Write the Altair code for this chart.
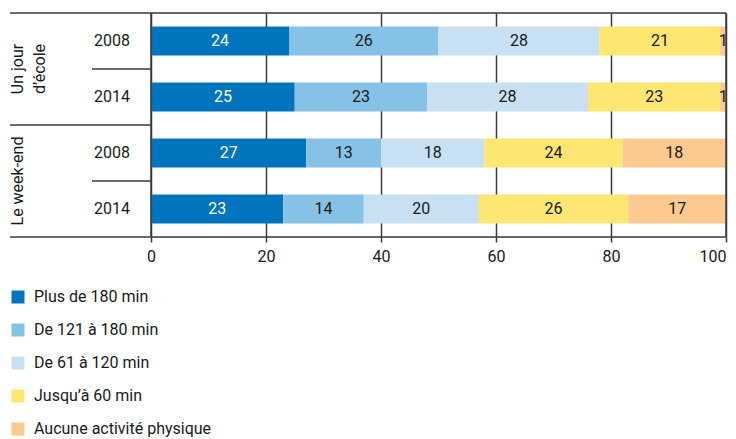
import altair as alt
import pandas as pd

# ---- data ----
rows = ["ecole_2008", "ecole_2014", "weekend_2008", "weekend_2014"]
years = ["2008", "2014", "2008", "2014"]
group_rows = ["ecole_2008", "weekend_2008"]
group_labels = [["Un jour", "d’école"], ["Le week-end"]]
categories = ["Plus de 180 min", "De 121 à 180 min", "De 61 à 120 min",
              "Jusqu’à 60 min", "Aucune activité physique"]
colors = ["#0075BE", "#86C2E5", "#C8E0F4", "#FDE671", "#FCC98F"]

ecole_2008 = [24, 26, 28, 21, 1]
ecole_2014 = [25, 23, 28, 23, 1]
weekend_2008 = [27, 13, 18, 24, 18]
weekend_2014 = [23, 14, 20, 26, 17]
series = [ecole_2008, ecole_2014, weekend_2008, weekend_2014]

x_ticks = [0, 20, 40, 60, 80, 100]

FONT = "Roboto"
TXT = "#1a1a1a"
LINE = "#3a3a3a"

records = []
for r, vals in zip(rows, series):
    for i, (c, v) in enumerate(zip(categories, vals)):
        records.append({"row": r, "category": c, "order": i, "value": v})
df = pd.DataFrame(records)

year_df = pd.DataFrame({"row": rows, "year": years})
group_df = pd.DataFrame({"row": group_rows, "label": group_labels})
short_sep_df = pd.DataFrame({"row": [rows[0], rows[2]]})
group_sep_df = pd.DataFrame({"row": [rows[1]]})
one = pd.DataFrame({"k": [0]})

yscale = alt.Scale(domain=rows, paddingInner=0.48, paddingOuter=0.24)
Y = alt.Y("row:N", sort=rows, scale=yscale, axis=None)

stacked = alt.Chart(df).transform_stack(
    stack="value", groupby=["row"], as_=["x0", "x1"],
    sort=[alt.SortField("order", order="ascending")]
)

bars = stacked.mark_bar().encode(
    y=Y,
    x=alt.X("x0:Q", scale=alt.Scale(domain=[0, 100], nice=False),
            axis=alt.Axis(values=x_ticks, title=None, domain=False,
                          grid=True, gridColor=LINE, gridWidth=1.5, gridOpacity=1,
                          ticks=True, tickColor=LINE, tickWidth=1.5, tickSize=5,
                          labelFont=FONT, labelFontSize=16, labelColor=TXT,
                          labelPadding=6, labelFlush=False,
                          labelAlign={"condition": {"test": "datum.value === 100",
                                                    "value": "right"},
                                      "value": "center"})),
    x2="x1:Q",
    color=alt.Color("category:N", sort=categories,
                    scale=alt.Scale(domain=categories, range=colors),
                    legend=alt.Legend(
                        title=None, orient="none", legendX=-141, legendY=276,
                        direction="vertical", symbolType="square", symbolSize=169,
                        symbolStrokeWidth=0, labelFont=FONT, labelFontSize=16,
                        labelColor=TXT, rowPadding=17, labelOffset=8, padding=0,
                        labelLimit=400)),
)

labels = stacked.transform_calculate(
    mid="(datum.x0 + datum.x1) / 2"
).mark_text(font=FONT, fontSize=16, baseline="middle", align="center").encode(
    y=Y,
    x=alt.X("mid:Q"),
    text=alt.Text("value:Q", format="d"),
    color=alt.condition(alt.datum.category == categories[0],
                        alt.value("white"), alt.value(TXT)),
)

year_text = alt.Chart(year_df).mark_text(
    font=FONT, fontSize=16, align="right", baseline="middle", color=TXT
).encode(y=Y, x=alt.value(-21), text="year:N")

group_text = alt.Chart(group_df).mark_text(
    font=FONT, fontSize=16, align="center", baseline="middle", color=TXT,
    angle=270, lineHeight=22, yOffset=28
).encode(y=Y, x=alt.value(-133), text="label")

short_sep = alt.Chart(short_sep_df).mark_rule(
    color=LINE, strokeWidth=1.5, yOffset=28
).encode(y=Y, x=alt.value(-59), x2=alt.value(0))

group_sep = alt.Chart(group_sep_df).mark_rule(
    color=LINE, strokeWidth=1.5, yOffset=28
).encode(y=Y, x=alt.value(-141), x2=alt.value(0))

top_line = alt.Chart(one).mark_rule(color=LINE, strokeWidth=1.5).encode(
    y=alt.value(0), x=alt.value(-141), x2=alt.value("width"))
bottom_line = alt.Chart(one).mark_rule(color=LINE, strokeWidth=1.5).encode(
    y=alt.value("height"), x=alt.value(-141), x2=alt.value("width"))
left_line = alt.Chart(one).mark_rule(color=LINE, strokeWidth=1.5).encode(
    x=alt.value(0), y=alt.value(0), y2=alt.value("height"))
right_line = alt.Chart(one).mark_rule(color=LINE, strokeWidth=1.5).encode(
    x=alt.value("width"), y=alt.value(0), y2=alt.value("height"))

chart = alt.layer(
    bars, labels, year_text, group_text, short_sep, group_sep,
    top_line, bottom_line, left_line, right_line
).properties(
    width=575, height=224,
    autosize=alt.AutoSizeParams(type="none"),
    padding={"left": 143, "top": 5, "right": 2, "bottom": 202},
).configure_view(stroke=None).configure(background="white")

chart.save("out.html", embed_options={"renderer": "svg", "actions": False})
